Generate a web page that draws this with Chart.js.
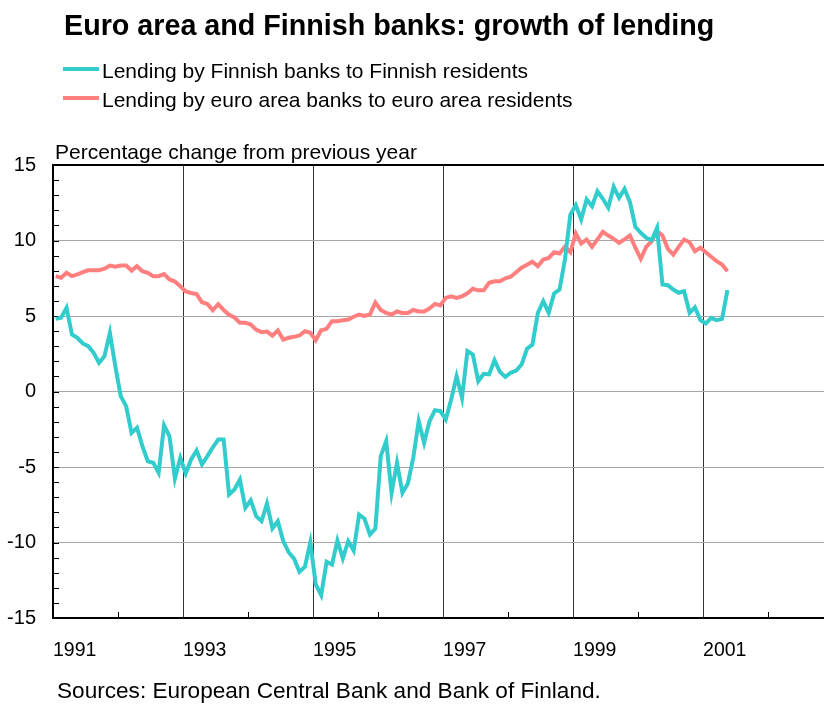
<!DOCTYPE html>
<html>
<head>
<meta charset="utf-8">
<script src="https://cdn.jsdelivr.net/npm/chart.js@4.4.1/dist/chart.umd.min.js"></script>
<style>
  body { margin: 0; background: #fff; }
  #wrap { position: relative; width: 824px; height: 706px; font-family: "Liberation Sans", Arial, sans-serif; color: #000; }
  #wrap canvas { position: absolute; left: 0; top: 0; }
  .txt { position: absolute; white-space: nowrap; line-height: 1; }
  #title { left: 64px; top: 10.7px; font-size: 28.7px; font-weight: bold; }
  #yTitle { left: 55px; top: 140.5px; font-size: 21px; }
  #source { left: 57px; top: 680px; font-size: 22.6px; }
  .leg { position: absolute; left: 63px; font-size: 21px; line-height: 1; white-space: nowrap; }
  .leg span.sw { position: absolute; left: 0; width: 36px; height: 4px; }
  .leg span.lb { position: absolute; left: 39px; top: 0; }
</style>
</head>
<body>
<div id="wrap">
  <canvas id="chart" width="824" height="706"></canvas>
  <div class="txt" id="title">Euro area and Finnish banks: growth of lending</div>
  <div id="legend"></div>
  <div class="txt" id="yTitle">Percentage change from previous year</div>
  <div class="txt" id="source">Sources: European Central Bank and Bank of Finland.</div>
</div>
<script>
// monthly data, Jan 1991 - May 2001, % change from previous year
const startYear = 1991;

const finnish = [
  4.81, 4.88, 5.54, 3.77, 3.55, 3.18, 3.0, 2.56, 1.9, 2.34, 3.89, 1.68,
  -0.31, -0.97, -2.74, -2.40, -3.62, -4.62, -4.72, -5.38, -2.25, -2.96, -5.76, -4.39,
  -5.43, -4.5, -3.91, -4.83, -4.28, -3.7, -3.18, -3.18, -6.82, -6.49, -5.83, -7.70,
  -7.2, -8.26, -8.59, -7.42, -9.06, -8.59, -9.91, -10.64, -11.08, -11.94, -11.61, -9.98,
  -12.78, -13.49, -11.28, -11.46, -9.87, -11.06, -9.91, -10.53, -8.15, -8.43, -9.47, -9.09,
  -4.28, -3.29, -6.71, -4.72, -6.71, -6.09, -4.39, -1.97, -3.40, -1.97, -1.24, -1.30,
  -1.85, -0.53, 1.01, -0.42, 2.67, 2.45, 0.68, 1.17, 1.13, 2.07, 1.30, 0.97,
  1.24, 1.39, 1.79, 2.83, 3.11, 5.21, 5.98, 5.21, 6.49, 6.75, 8.74, 11.72,
  12.34, 11.39, 12.72, 12.27, 13.26, 12.76, 12.17, 13.56, 12.83, 13.42, 12.54, 10.91,
  10.51, 10.18, 10.02, 10.84, 7.09, 7.04, 6.75, 6.54, 6.64, 5.21, 5.58, 4.72,
  4.50, 4.88, 4.72, 4.81, 6.71
];

const euroArea = [
  7.64, 7.53, 7.86, 7.64, 7.75, 7.9, 8.03, 8.03, 8.03, 8.13, 8.34, 8.26,
  8.34, 8.34, 8.01, 8.3, 7.97, 7.86, 7.64, 7.64, 7.78, 7.42, 7.28, 6.97,
  6.62, 6.52, 6.45, 5.91, 5.8, 5.38, 5.78, 5.4, 5.08, 4.9, 4.55, 4.55,
  4.44, 4.1, 3.93, 3.97, 3.7, 4.04, 3.44, 3.56, 3.62, 3.71, 3.99, 3.89,
  3.40, 4.06, 4.15, 4.66, 4.66, 4.72, 4.77, 4.95, 5.10, 5.0, 5.1, 5.9,
  5.4, 5.2, 5.1, 5.3, 5.2, 5.2, 5.4, 5.3, 5.3, 5.5, 5.8, 5.7,
  6.2, 6.3, 6.2, 6.3, 6.5, 6.8, 6.7, 6.7, 7.2, 7.3, 7.3, 7.5,
  7.6, 7.9, 8.2, 8.4, 8.6, 8.3, 8.74, 8.85, 9.22, 9.14, 9.58, 9.22,
  10.46, 9.80, 10.07, 9.58, 10.07, 10.58, 10.33, 10.11, 9.85, 10.07, 10.33, 9.52,
  8.79, 9.58, 9.95, 10.62, 10.33, 9.45, 9.07, 9.58, 10.07, 9.89, 9.29, 9.52,
  9.22, 8.92, 8.63, 8.41, 7.97
];

const seriesNames = [
  "Lending by Finnish banks to Finnish residents",
  "Lending by euro area banks to euro area residents"
];
const yearLabels = [1991, 1993, 1995, 1997, 1999, 2001];
const yTickLabels = [-15, -10, -5, 0, 5, 10, 15];

// month positions as decimal years (mid-month)
const months = finnish.map((_, i) => startYear + (i + 0.5) / 12);

const toPoints = vals => vals.map((v, i) => ({ x: months[i], y: v }));

// small inward tick marks on both axes
const minorTicks = {
  id: "minorTicks",
  beforeDatasetsDraw(chart) {
    const { ctx, chartArea, scales } = chart;
    ctx.save();
    ctx.strokeStyle = "#000";
    ctx.lineWidth = 1;
    ctx.beginPath();
    for (let v = -14; v <= 14; v++) {
      const y = Math.round(scales.y.getPixelForValue(v)) + 0.5;
      ctx.moveTo(chartArea.left, y);
      ctx.lineTo(chartArea.left + 6, y);
    }
    for (let yr = 1992; yr <= 2002; yr += 2) {
      const x = Math.round(scales.x.getPixelForValue(yr)) + 0.5;
      ctx.moveTo(x, chartArea.bottom);
      ctx.lineTo(x, chartArea.bottom - 6);
    }
    ctx.stroke();
    ctx.restore();
  }
};

const chart = new Chart(document.getElementById("chart"), {
  type: "line",
  data: {
    datasets: [{
      label: seriesNames[0],
      data: toPoints(finnish),
      borderColor: "#33cccc",
      backgroundColor: "#33cccc",
      borderWidth: 4,
      pointRadius: 0,
      tension: 0
    }, {
      label: seriesNames[1],
      data: toPoints(euroArea),
      borderColor: "#ff7f7f",
      backgroundColor: "#ff7f7f",
      borderWidth: 4,
      pointRadius: 0,
      tension: 0
    }]
  },
  options: {
    responsive: false,
    animation: false,
    devicePixelRatio: 1,
    layout: { padding: { top: 165, right: 0, left: 0, bottom: 0 } },
    plugins: {
      legend: { display: false },
      title: { display: false },
      tooltip: { enabled: false }
    },
    scales: {
      x: {
        type: "linear",
        min: 1991,
        max: 2002.86,
        afterFit(scale) { scale.height = 88; },
        afterBuildTicks(scale) {
          const t = [];
          for (let yr = 1991; yr <= 2002; yr++) t.push({ value: yr });
          scale.ticks = t;
        },
        ticks: {
          autoSkip: false,
          maxRotation: 0,
          align: "start",
          padding: 21,
          color: "#000",
          font: { family: "'Liberation Sans', Arial, sans-serif", size: 19.5 },
          callback: v => yearLabels.includes(v) ? String(v) : ""
        },
        grid: {
          drawTicks: false,
          lineWidth: 1,
          color: c => (c.tick && c.tick.value > 1991 && c.tick.value % 2 === 1) ? "#333" : "rgba(0,0,0,0)"
        },
        border: { color: "#000", width: 2 }
      },
      y: {
        min: -15,
        max: 15,
        afterFit(scale) { scale.width = 53; },
        afterBuildTicks(scale) {
          scale.ticks = yTickLabels.map(v => ({ value: v }));
        },
        ticks: {
          autoSkip: false,
          padding: 17,
          color: "#000",
          font: { family: "'Liberation Sans', Arial, sans-serif", size: 20 },
          callback: v => String(v)
        },
        grid: {
          drawTicks: false,
          lineWidth: c => (c.tick && c.tick.value === 15) ? 2 : 1,
          color: c => {
            if (!c.tick) return "rgba(0,0,0,0)";
            if (c.tick.value === 15) return "#000";
            if (c.tick.value === -15) return "rgba(0,0,0,0)";
            return "#a6a6a6";
          }
        },
        border: { color: "#000", width: 2 }
      }
    }
  },
  plugins: [minorTicks]
});

// legend built from the datasets
const legend = document.getElementById("legend");
const legTops = [60.2, 88.5];
chart.data.datasets.forEach((ds, i) => {
  const row = document.createElement("div");
  row.className = "leg";
  row.style.top = legTops[i] + "px";
  const sw = document.createElement("span");
  sw.className = "sw";
  sw.style.background = ds.borderColor;
  sw.style.top = "7px";
  const lb = document.createElement("span");
  lb.className = "lb";
  lb.textContent = ds.label;
  row.appendChild(sw);
  row.appendChild(lb);
  legend.appendChild(row);
});
</script>
</body>
</html>
